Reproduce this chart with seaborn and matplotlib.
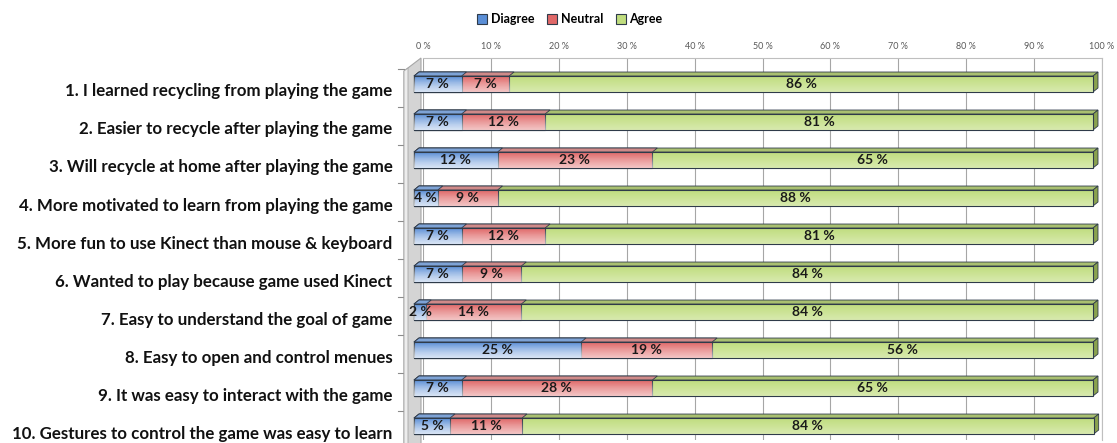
import matplotlib
matplotlib.use("Agg")
import matplotlib.pyplot as plt
import matplotlib.transforms as mtransforms
from matplotlib.patches import Polygon, Patch
import numpy as np
import pandas as pd
import seaborn as sns

questions = [
    "1. I learned recycling from playing the game",
    "2. Easier to recycle after playing the game",
    "3. Will recycle at home after playing the game",
    "4. More motivated to learn from playing the game",
    "5. More fun to use Kinect than mouse & keyboard",
    "6. Wanted to play because game used Kinect",
    "7. Easy to understand the goal of game",
    "8. Easy to open and control menues",
    "9. It was easy to interact with the game",
    "10. Gestures to control the game was easy to learn",
]
disagree = [7.0, 7.0, 12.3, 3.5, 7.0, 7.0, 1.8, 24.6, 7.0, 5.3]
neutral = [7.0, 12.3, 22.8, 8.8, 12.3, 8.8, 14.0, 19.3, 28.1, 10.6]
agree = [86.0, 80.7, 64.9, 87.7, 80.7, 84.2, 84.2, 56.1, 64.9, 84.2]
series = ["Diagree", "Neutral", "Agree"]
xticks = [0, 10, 20, 30, 40, 50, 60, 70, 80, 90, 100]

W, H = 1117, 443
fig = plt.figure(figsize=(W / 100, H / 100), dpi=100)
plt.rcParams["font.family"] = ["Lato", "DejaVu Sans"]
ax = fig.add_axes([423 / W, 1 - 440 / H, 679 / W, 382 / H])

df = pd.DataFrame({"question": questions, "Diagree": disagree,
                   "Neutral": neutral, "Agree": agree})
df["Neutral_end"] = df["Diagree"] + df["Neutral"]
df["Agree_end"] = df["Neutral_end"] + df["Agree"]
df["Neutral_mid"] = df["Diagree"] + df["Neutral"] / 2
df["Agree_mid"] = df["Neutral_end"] + df["Agree"] / 2
df["Diagree_mid"] = df["Diagree"] / 2

# front plane of the bars sits a bit left of the back wall
shift = mtransforms.offset_copy(ax.transData, fig=fig, x=-9, y=0, units="dots")
px_x = 679 / 100.0
px_y = 38.0
dx, dy = 5 / px_x, 4 / px_y
edge = "#2f3b4a"

colors = {
    "Diagree": dict(face="#5a8ed6", top="#7ea3d6", side="#4a76b0"),
    "Neutral": dict(face="#e06868", top="#d08a89", side="#b55452"),
    "Agree": dict(face="#c0dd7e", top="#a9c070", side="#8aa24e"),
}

grad = np.zeros((32, 2, 4))
grad[..., :3] = 1.0
grad[..., 3] = np.linspace(0.0, 0.38, 32)[:, None]

for name, col in [("Agree", "Agree_end"), ("Neutral", "Neutral_end"), ("Diagree", "Diagree")]:
    c = colors[name]
    n0 = len(ax.patches)
    sns.barplot(data=df, x=col, y="question", color=c["face"], saturation=1,
                width=0.42, edgecolor=edge, linewidth=0.8, ax=ax, zorder=3)
    for p in ax.patches[n0:]:
        p.set_transform(shift)
        p.set_clip_on(False)
        x0, x1 = p.get_x(), p.get_x() + p.get_width()
        yt, yb = p.get_y(), p.get_y() + p.get_height()
        im = ax.imshow(grad, extent=(x0, x1, yb, yt), aspect="auto",
                       transform=shift, zorder=3.1, interpolation="bilinear")
        im.set_clip_box(None)
        im.set_clip_path(p)
        top = Polygon([(x0, yt), (x1, yt), (x1 + dx, yt - dy), (x0 + dx, yt - dy)],
                      closed=True, facecolor=c["top"], edgecolor=edge, lw=0.6,
                      transform=shift, zorder=2.9, clip_on=False)
        ax.add_patch(top)
        if name == "Agree":
            side = Polygon([(x1, yt), (x1 + dx, yt - dy), (x1 + dx, yb - dy), (x1, yb)],
                           closed=True, facecolor=c["side"], edgecolor=edge, lw=0.6,
                           transform=shift, zorder=2.9, clip_on=False)
            ax.add_patch(side)

# data labels
for name in series:
    for i, v in enumerate(df[name]):
        ax.text(df[name + "_mid"][i], i, f"{int(np.floor(v + 0.5))} %", transform=shift,
                ha="center", va="center", fontsize=10, fontweight="bold",
                color="#1a1a1a", zorder=5)

ax.set_xlim(0, 100)
ax.set_ylim(9.368, -0.684)
ax.set_xlabel("")
ax.set_ylabel("")
ax.xaxis.tick_top()
ax.set_xticks(xticks)
ax.set_xticklabels([f"{t} %" for t in xticks], fontsize=6.5, color="#595959")
ax.tick_params(axis="x", length=0, pad=5)
ax.grid(axis="x", color="#a6a6a6", lw=0.8, zorder=0)
ax.set_axisbelow(True)
for s in ["left", "bottom"]:
    ax.spines[s].set_visible(False)
for s in ["top", "right"]:
    ax.spines[s].set_color("#bfbfbf")
    ax.spines[s].set_linewidth(0.8)

ax.set_yticks(range(len(questions)))
ax.set_yticklabels(questions, fontsize=12.2, fontweight="bold", color="#111111")
ax.tick_params(axis="y", length=0, pad=22)
down = mtransforms.ScaledTranslation(0, -0.06, fig.dpi_scale_trans)
for lab in ax.get_yticklabels():
    lab.set_transform(lab.get_transform() + down)

# left wall of the 3d frame, in pixels, behind the bars
pix = mtransforms.IdentityTransform()
wall = Polygon([(404, H - 71), (421, H - 58), (421, -5), (404, -5)], closed=True,
               facecolor="#d4d4d4", edgecolor="#a6a6a6", lw=0.8, transform=pix,
               clip_on=False, zorder=1)
ax.add_patch(wall)
front = Polygon([(404, H - 71), (408, H - 68), (408, -5), (404, -5)], closed=True,
                facecolor="#ededed", edgecolor="#a6a6a6", lw=0.6, transform=pix,
                clip_on=False, zorder=1.1)
ax.add_patch(front)
for k in range(10):
    yk = H - (69 + 38 * k)
    ax.add_line(plt.Line2D([398, 404], [yk, yk], color="#8c8c8c", lw=0.8,
                           transform=pix, clip_on=False, zorder=1))

handles = [Patch(facecolor=colors[s]["face"], edgecolor=edge, lw=0.8) for s in series]
fig.legend(handles, series, loc="upper center", bbox_to_anchor=(570 / W, 1 - 2 / H),
           ncol=3, frameon=False, handlelength=0.8, handleheight=0.8,
           handletextpad=0.3, columnspacing=1.0,
           prop=dict(family=["Lato", "DejaVu Sans"], weight="bold", size=9))

fig.savefig("out.png", dpi=100)
